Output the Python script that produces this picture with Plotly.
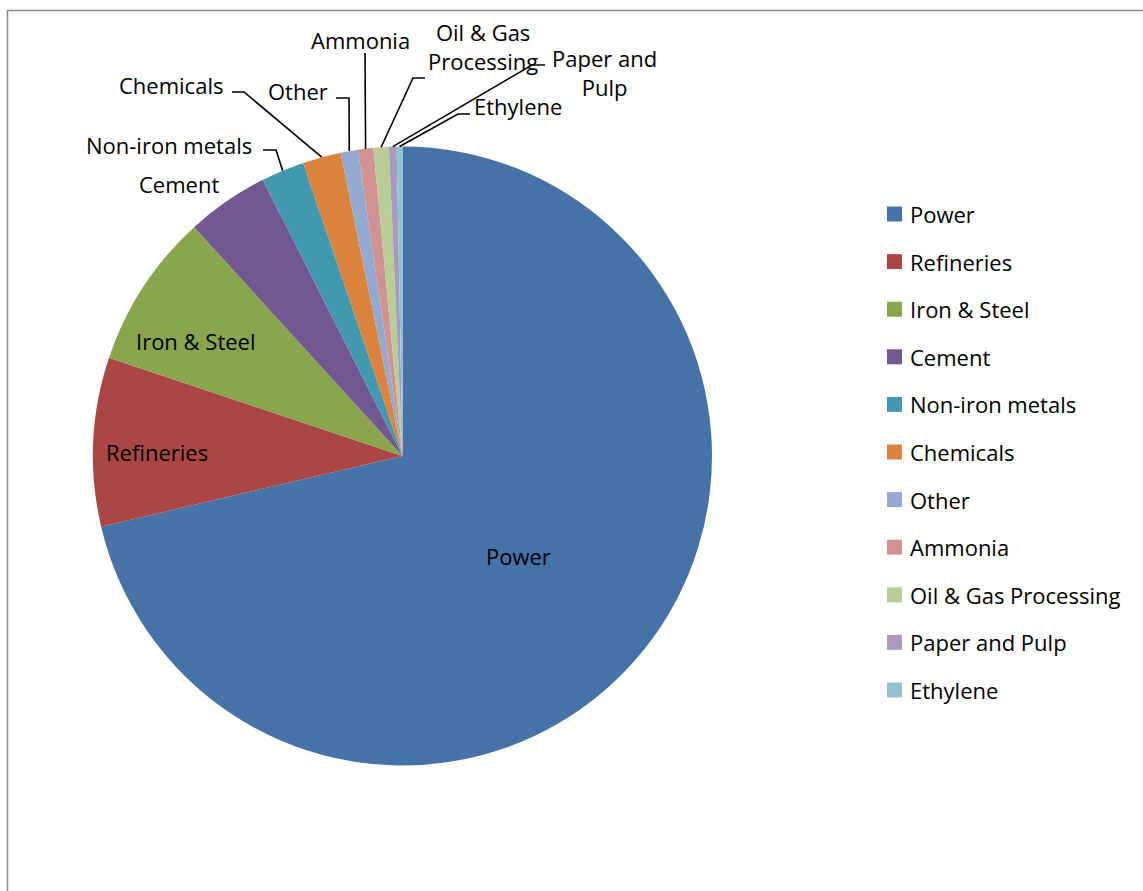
import math
import plotly.graph_objects as go

# Share of emissions by sector (percent)
sectors = ["Power", "Refineries", "Iron & Steel", "Cement", "Non-iron metals",
           "Chemicals", "Other", "Ammonia", "Oil & Gas Processing",
           "Paper and Pulp", "Ethylene"]
shares = [71.3, 8.8, 8.1, 4.3, 2.25, 2.0, 0.9, 0.8, 0.8, 0.4, 0.3]
colors = ["#4572A7", "#AA4643", "#89A54E", "#71588F", "#4198AF", "#DB843D",
          "#93A9CF", "#D19392", "#B9CD96", "#A99BBD", "#91C3D5"]

# Page geometry (pixels)
W, H = 1143, 891
CX, CY, R = 402.5, 456.0, 309.5
FONT = "Open Sans"
FS = 22


def px(x):
    return x / W


def py(y):
    return 1 - y / H


# Label text centres and leader-line elbows (pixels)
label_pos = {
    "Power": (518, 556),
    "Refineries": (157, 452),
    "Iron & Steel": (196, 341),
    "Cement": (179, 184),
    "Non-iron metals": (169, 145),
    "Chemicals": (171, 85),
    "Other": (298, 91),
    "Ammonia": (360, 40),
    "Oil & Gas Processing": (483, 47),
    "Paper and Pulp": (604, 73),
    "Ethylene": (518, 106),
}
label_text = {
    "Oil & Gas Processing": "Oil & Gas<br>Processing",
    "Paper and Pulp": "Paper and<br>Pulp",
}
leader_elbows = {
    "Non-iron metals": [(263, 150), (276, 150)],
    "Chemicals": [(232, 92), (244, 92)],
    "Other": [(336, 98), (349, 98)],
    "Ammonia": [(365, 53)],
    "Oil & Gas Processing": [(425, 78), (413, 78)],
    "Paper and Pulp": [(545, 65), (532, 65)],
    "Ethylene": [(470, 114), (458, 114)],
}

fig = go.Figure()
fig.add_trace(go.Pie(
    labels=sectors,
    values=shares,
    sort=False,
    direction="clockwise",
    rotation=0,
    marker=dict(colors=colors, line=dict(width=0)),
    textinfo="none",
    hoverinfo="label+percent",
    showlegend=False,
    domain=dict(x=[px(CX - R), px(CX + R)], y=[py(CY + R), py(CY - R)]),
))

annotations = []
shapes = []

# Slice labels and leader lines
total = sum(shares)
cum = 0.0
for name, v in zip(sectors, shares):
    mid = 2 * math.pi * (cum + v / 2) / total
    cum += v
    lx, ly = label_pos[name]
    annotations.append(dict(
        x=px(lx), y=py(ly), xref="paper", yref="paper",
        text=label_text.get(name, name), showarrow=False,
        xanchor="center", yanchor="middle", align="center",
        font=dict(family=FONT, size=FS, color="#000000"),
    ))
    if name in leader_elbows:
        ex = CX + R * math.sin(mid)
        ey = CY - R * math.cos(mid)
        pts = leader_elbows[name] + [(ex, ey)]
        path = "M " + " L ".join(f"{px(x):.6f},{py(y):.6f}" for x, y in pts)
        shapes.append(dict(type="path", xref="paper", yref="paper", path=path,
                           line=dict(color="#000000", width=1.6)))

# Legend drawn as swatches and text
LEG_X, LEG_Y0, LEG_STEP, SW = 887, 214, 47.6, 15
for i, (name, col) in enumerate(zip(sectors, colors)):
    yc = LEG_Y0 + i * LEG_STEP
    shapes.append(dict(type="rect", xref="paper", yref="paper",
                       x0=px(LEG_X), x1=px(LEG_X + SW),
                       y0=py(yc + SW / 2), y1=py(yc - SW / 2),
                       fillcolor=col, line=dict(width=0)))
    annotations.append(dict(
        x=px(908), y=py(yc), xref="paper", yref="paper", text=name,
        showarrow=False, xanchor="left", yanchor="middle",
        font=dict(family=FONT, size=FS, color="#000000"),
    ))

# Chart frame
shapes.append(dict(type="rect", xref="paper", yref="paper",
                   x0=px(7.5), x1=1.02, y0=-0.02, y1=py(10.5),
                   line=dict(color="#8a8a8a", width=1.5), fillcolor="rgba(0,0,0,0)"))

fig.update_layout(
    width=W, height=H,
    margin=dict(l=0, r=0, t=0, b=0),
    paper_bgcolor="#ffffff",
    plot_bgcolor="#ffffff",
    annotations=annotations,
    shapes=shapes,
    font=dict(family=FONT, size=FS, color="#000000"),
)

fig.write_html("out.html")
